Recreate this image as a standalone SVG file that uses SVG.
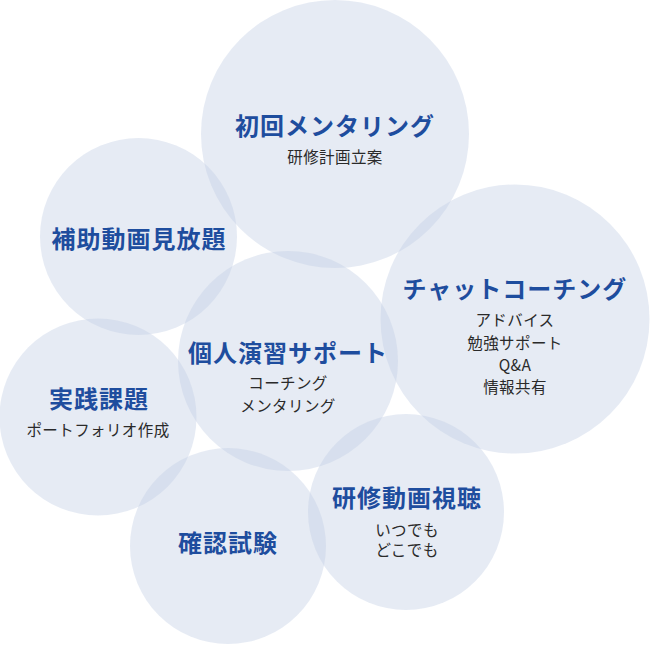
<svg xmlns="http://www.w3.org/2000/svg" width="650" height="645" viewBox="0 0 650 645">
<style>
.c{fill:#c3cfe5;fill-opacity:0.42}
.t{font-family:"Noto Sans CJK JP","Noto Sans",sans-serif;font-weight:700;font-size:24px;letter-spacing:1px;fill:#1e4d9e;text-anchor:middle;dominant-baseline:central}
.s{font-family:"Noto Sans CJK JP","Noto Sans",sans-serif;font-weight:400;font-size:15.5px;letter-spacing:0.4px;fill:#2a2a2a;text-anchor:middle;dominant-baseline:central}
</style>
<rect width="650" height="645" fill="#ffffff"/>
<g id="connectors"></g>
<g id="node-shokai">
<circle class="c" cx="335" cy="134" r="134"/>
<text class="t" x="335" y="124">初回メンタリング</text>
<text class="s" x="335" y="156">研修計画立案</text>
</g>
<g id="node-hojo">
<circle class="c" cx="138.5" cy="236.5" r="98.5"/>
<text class="t" x="139" y="237">補助動画見放題</text>
</g>
<g id="node-chat">
<circle class="c" cx="515" cy="319" r="134.5"/>
<text class="t" x="515" y="287">チャットコーチング</text>
<text class="s" x="515" y="319">アドバイス</text>
<text class="s" x="515" y="341.5">勉強サポート</text>
<text class="s" x="515" y="364">Q&amp;A</text>
<text class="s" x="515" y="386">情報共有</text>
</g>
<g id="node-kojin">
<circle class="c" cx="288" cy="361" r="110"/>
<text class="t" x="288" y="351">個人演習サポート</text>
<text class="s" x="288" y="382">コーチング</text>
<text class="s" x="288" y="405">メンタリング</text>
</g>
<g id="node-jissen">
<circle class="c" cx="98" cy="417" r="98.5"/>
<text class="t" x="99" y="397">実践課題</text>
<text class="s" x="98" y="429">ポートフォリオ作成</text>
</g>
<g id="node-kakunin">
<circle class="c" cx="228" cy="546" r="98"/>
<text class="t" x="228" y="541">確認試験</text>
</g>
<g id="node-kenshu">
<circle class="c" cx="406" cy="512" r="98"/>
<text class="t" x="407" y="496">研修動画視聴</text>
<text class="s" x="407" y="529">いつでも</text>
<text class="s" x="407" y="549">どこでも</text>
</g>
</svg>
